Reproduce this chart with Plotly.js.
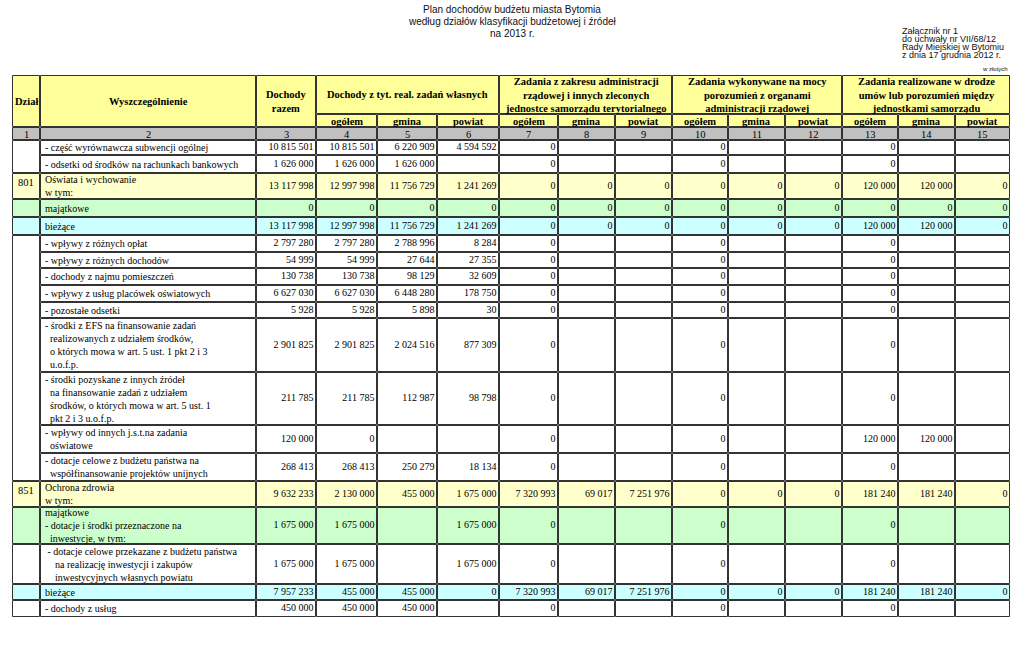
<!DOCTYPE html>
<html>
<head>
<meta charset="utf-8">
<script src="https://cdn.plot.ly/plotly-3.0.1.min.js"></script>
<style>html,body{margin:0;padding:0;background:#fff;}#chart{width:1024px;height:671px;}</style>
</head>
<body>
<div id="chart"></div>
<script>
// ---------- DATA ----------
const titleLines = ["Plan dochodów budżetu miasta Bytomia", "według działów klasyfikacji budżetowej i źródeł", "na 2013 r."];
const noteLines = ["Załącznik nr 1", "do uchwały nr VII/68/12", "Rady Miejskiej w Bytomiu", "z dnia 17 grudnia 2012 r."];
const unitLabel = "w złotych";
const headTop = ["Dział", "Wyszczególnienie", "Dochody<br>razem"];
const groupHeads = [
  "Dochody z tyt. real. zadań własnych",
  "Zadania z zakresu administracji<br>rządowej i innych zleconych<br>jednostce samorządu terytorialnego",
  "Zadania wykonywane na mocy<br>porozumień z organami<br>administracji rządowej",
  "Zadania realizowane w drodze<br>umów lub porozumień między<br>jednostkami samorządu"
];
const subHeads = ["ogółem", "gmina", "powiat"];
const colNumbers = ["1","2","3","4","5","6","7","8","9","10","11","12","13","14","15"];

const dzialCodes = ["", "", "801", "", "", "", "", "", "", "", "", "", "", "", "851", "", "", "", ""];
const rowKind = ["w","w","dz","maj","biez","w","w","w","w","w","w","w","w","w","dz","maj","w","biez","w"];
const rowLabels = [
  "- część wyrównawcza subwencji ogólnej",
  "- odsetki od środków na rachunkach bankowych",
  "Oświata i wychowanie<br>w tym:",
  "majątkowe",
  "bieżące",
  "- wpływy z różnych opłat",
  "- wpływy z różnych dochodów",
  "- dochody z najmu pomieszczeń",
  "- wpływy z usług placówek oświatowych",
  "- pozostałe odsetki",
  "- środki z EFS na finansowanie zadań<br>\u00a0\u00a0realizowanych z udziałem środków,<br>\u00a0\u00a0o których mowa w art. 5 ust. 1 pkt 2 i 3<br>\u00a0\u00a0u.o.f.p.",
  "- środki pozyskane z innych źródeł<br>\u00a0\u00a0na finansowanie zadań z udziałem<br>\u00a0\u00a0środków, o których mowa w art. 5 ust. 1<br>\u00a0\u00a0pkt 2 i 3 u.o.f.p.",
  "- wpływy od innych j.s.t.na zadania<br>\u00a0\u00a0oświatowe",
  "- dotacje celowe z budżetu państwa na<br>\u00a0\u00a0współfinansowanie projektów unijnych",
  "Ochrona zdrowia<br>w tym:",
  "majątkowe<br>- dotacje i środki przeznaczone na<br>\u00a0\u00a0inwestycje, w tym:",
  "\u00a0- dotacje celowe przekazane z budżetu państwa<br>\u00a0\u00a0\u00a0\u00a0na realizację inwestycji i zakupów<br>\u00a0\u00a0\u00a0\u00a0inwestycyjnych własnych powiatu",
  "bieżące",
  "- dochody z usług"
];
// columns 3..15 per row
const rowValues = [
  ["10 815 501","10 815 501","6 220 909","4 594 592","0","","","0","","","0","",""],
  ["1 626 000","1 626 000","1 626 000","","0","","","0","","","0","",""],
  ["13 117 998","12 997 998","11 756 729","1 241 269","0","0","0","0","0","0","120 000","120 000","0"],
  ["0","0","0","0","0","0","0","0","0","0","0","0","0"],
  ["13 117 998","12 997 998","11 756 729","1 241 269","0","0","0","0","0","0","120 000","120 000","0"],
  ["2 797 280","2 797 280","2 788 996","8 284","0","","","0","","","0","",""],
  ["54 999","54 999","27 644","27 355","0","","","0","","","0","",""],
  ["130 738","130 738","98 129","32 609","0","","","0","","","0","",""],
  ["6 627 030","6 627 030","6 448 280","178 750","0","","","0","","","0","",""],
  ["5 928","5 928","5 898","30","0","","","0","","","0","",""],
  ["2 901 825","2 901 825","2 024 516","877 309","0","","","0","","","0","",""],
  ["211 785","211 785","112 987","98 798","0","","","0","","","0","",""],
  ["120 000","0","","","0","","","0","","","120 000","120 000",""],
  ["268 413","268 413","250 279","18 134","0","","","0","","","0","",""],
  ["9 632 233","2 130 000","455 000","1 675 000","7 320 993","69 017","7 251 976","0","0","0","181 240","181 240","0"],
  ["1 675 000","1 675 000","","1 675 000","0","","","0","","","0","",""],
  ["1 675 000","1 675 000","","1 675 000","0","","","0","","","0","",""],
  ["7 957 233","455 000","455 000","0","7 320 993","69 017","7 251 976","0","0","0","181 240","181 240","0"],
  ["450 000","450 000","450 000","","0","","","0","","","0","",""]
];

// ---------- LAYOUT (positions / sizes / styles) ----------
const colEdges = [12, 40, 256, 316, 377, 437, 499, 558, 615, 672, 728, 785, 842, 898, 955, 1010];
const headY = {top: 75, sub: 114, grayTop: 127, grayBot: 140};
const rowHeights = [15,18,26,18,18,17,16,17,17,16,54,53,28,28,26,37,40,16,17];
const fills = {w: "#FFFFFF", dz: "#FFFFCC", maj: "#CCFFCC", biez: "#CCFFFF", head: "#FFFF99", gray: "#C0C0C0"};
const lineCol = "#333333";
const serif = "Liberation Serif";
const sans = "Liberation Sans";

const rowEdges = [headY.grayBot];
rowHeights.forEach(h => rowEdges.push(rowEdges[rowEdges.length - 1] + h));

const shapes = [];
const annotations = [];
function cell(x0, y0, x1, y1, fill) {
  shapes.push({type: "rect", xref: "x", yref: "y", x0: x0 + 0.5, x1: x1 - 0.5, y0: y0 + 0.5, y1: y1 - 0.5,
    fillcolor: fill, line: {color: lineCol, width: 1}, layer: "below"});
}
function ann(text, x, y, opts) {
  annotations.push(Object.assign({text: text, x: x, y: y, xref: "x", yref: "y", showarrow: false,
    xanchor: "center", yanchor: "middle", align: "center",
    font: {family: serif, size: 10, color: "#000"}}, opts || {}));
}
function bold(t) { return t.split("<br>").map(s => "<b>" + s + "</b>").join("<br>"); }

// Titles
titleLines.forEach((t, i) => ann(t, 512, 9 + i * 12, {font: {family: sans, size: 10, color: "#111"}}));
noteLines.forEach((t, i) => ann(t, 900, 31 + i * 8, {xanchor: "left", align: "left", font: {family: sans, size: 9, color: "#111"}}));
ann(unitLabel, 1010, 69, {xanchor: "right", font: {family: sans, size: 6, color: "#111"}});

// Header
const hb = {family: serif, size: 10.5, color: "#000"};
for (let c = 0; c < 3; c++) {
  cell(colEdges[c], headY.top, colEdges[c + 1], headY.grayTop, fills.head);
  ann(bold(headTop[c]), (colEdges[c] + colEdges[c + 1]) / 2, (headY.top + headY.grayTop) / 2, {font: hb});
}
for (let g = 0; g < 4; g++) {
  const a = colEdges[3 + g * 3], b = colEdges[6 + g * 3];
  cell(a, headY.top, b, headY.sub, fills.head);
  ann(bold(groupHeads[g]), (a + b) / 2, (headY.top + headY.sub) / 2, {font: hb});
  for (let s = 0; s < 3; s++) {
    const x0 = colEdges[3 + g * 3 + s], x1 = colEdges[4 + g * 3 + s];
    cell(x0, headY.sub, x1, headY.grayTop, fills.head);
    ann(bold(subHeads[s]), (x0 + x1) / 2, (headY.sub + headY.grayTop) / 2 + 0.5, {font: hb});
  }
}
colNumbers.forEach((n, c) => {
  cell(colEdges[c], headY.grayTop, colEdges[c + 1], headY.grayBot, fills.gray);
  ann(n, (colEdges[c] + colEdges[c + 1]) / 2, (headY.grayTop + headY.grayBot) / 2 + 0.5, {font: {family: serif, size: 10.5, color: "#000"}});
});

// Dział column (consecutive white rows without code are merged)
let r = 0;
while (r < rowKind.length) {
  let e = r;
  if (rowKind[r] === "w" && dzialCodes[r] === "") {
    while (e + 1 < rowKind.length && rowKind[e + 1] === "w" && dzialCodes[e + 1] === "") e++;
  }
  cell(colEdges[0], rowEdges[r], colEdges[1], rowEdges[e + 1], fills[rowKind[r]]);
  if (dzialCodes[r]) ann(dzialCodes[r], (colEdges[0] + colEdges[1]) / 2, rowEdges[r] + 1.5, {yanchor: "top", font: {family: serif, size: 10.5, color: "#000"}});
  r = e + 1;
}

// Body cells
const numX = [], numY = [], numT = [];
rowLabels.forEach((lab, i) => {
  const y0 = rowEdges[i], y1 = rowEdges[i + 1], f = fills[rowKind[i]];
  for (let c = 1; c < 15; c++) cell(colEdges[c], y0, colEdges[c + 1], y1, f);
  ann(lab, colEdges[1] + 2.5, (y0 + y1) / 2, {xanchor: "left", align: "left"});
  rowValues[i].forEach((v, k) => {
    if (v === "") return;
    numX.push(colEdges[k + 3] - 2.5);
    numY.push((y0 + y1) / 2);
    numT.push(v);
  });
});

const trace = {
  type: "scatter", mode: "text", x: numX, y: numY, text: numT,
  textposition: "middle left", hoverinfo: "skip", showlegend: false,
  textfont: {family: serif, size: 10, color: "#000"}
};

const layout = {
  width: 1024, height: 671, margin: {l: 0, r: 0, t: 0, b: 0},
  paper_bgcolor: "#fff", plot_bgcolor: "#fff", showlegend: false,
  xaxis: {range: [0, 1024], visible: false, fixedrange: true},
  yaxis: {range: [671, 0], visible: false, fixedrange: true},
  shapes: shapes, annotations: annotations
};
Plotly.newPlot("chart", [trace], layout, {staticPlot: true, displayModeBar: false});
</script>
</body>
</html>
